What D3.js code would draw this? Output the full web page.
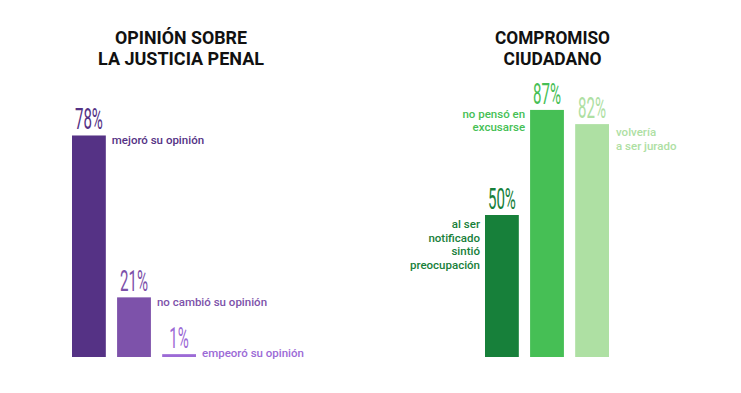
<!DOCTYPE html>
<html>
<head>
<meta charset="utf-8">
<script src="https://cdn.jsdelivr.net/npm/d3@7"></script>
<style>
  body { margin: 0; background: #fff; }
  svg { display: block; }
  .title { font-family: Roboto, sans-serif; font-weight: 700; font-size: 19px; fill: #111; }
  .pct { font-family: Roboto, sans-serif; font-weight: 400; font-size: 29px; }
  .lbl { font-family: Roboto, sans-serif; font-weight: 500; font-size: 11.5px; }
</style>
</head>
<body>
<div id="chart"></div>
<script>
// Datos
const opinionTitle = ['OPINIÓN SOBRE', 'LA JUSTICIA PENAL'];
const opinionCats = ['mejoró su opinión', 'no cambió su opinión', 'empeoró su opinión'];
const opinionValues = [78, 21, 1];

const civicTitle = ['COMPROMISO', 'CIUDADANO'];
const civicCats = [
  ['al ser', 'notificado', 'sintió', 'preocupación'],
  ['no pensó en', 'excusarse'],
  ['volvería', 'a ser jurado']
];
const civicValues = [50, 87, 82];

// Colores
const purples = ['#553285', '#7d52aa', '#9c6ad6'];
const greens = ['#17803a', '#46bf55', '#aee0a3'];

const width = 741;
const height = 393;
const base = 357;

const svg = d3.select('#chart')
  .append('svg')
    .attr('width', width)
    .attr('height', height);

// escala vertical compartida
const y = d3.scaleLinear()
  .domain([0, 100])
  .range([base, base - 284]);

function title(lines, cx, lengths) {
  svg.selectAll(null)
    .data(lines)
    .enter().append('text')
      .attr('class', 'title')
      .attr('x', cx)
      .attr('y', (d, i) => 44 + i * 20.5)
      .attr('text-anchor', 'middle')
      .attr('textLength', (d, i) => lengths[i])
      .attr('lengthAdjust', 'spacingAndGlyphs')
      .text(d => d);
}

function pctLabels(g, x, values, colors) {
  g.selectAll('.pct')
    .data(values)
    .enter().append('text')
      .attr('class', 'pct')
      .attr('text-anchor', 'middle')
      .attr('fill', (d, i) => colors[i])
      .attr('transform', (d, i) =>
        `translate(${x(i) + x.bandwidth() / 2},${y(d) - 6}) scale(0.52,1)`)
      .text(d => d + '%');
}

function bars(g, x, values, colors) {
  g.selectAll('rect')
    .data(values)
    .enter().append('rect')
      .attr('x', (d, i) => x(i))
      .attr('y', d => y(d))
      .attr('width', x.bandwidth())
      .attr('height', d => base - y(d))
      .attr('fill', (d, i) => colors[i]);
}

/** Opinión sobre la justicia penal */
title(opinionTitle, 181, [132, 166]);

const x1 = d3.scaleBand()
  .domain(d3.range(opinionValues.length))
  .range([72, 196])
  .paddingInner(0.25);

const g1 = svg.append('g');
bars(g1, x1, opinionValues, purples);
pctLabels(g1, x1, opinionValues, purples);

g1.selectAll('.lbl')
  .data(opinionCats)
  .enter().append('text')
    .attr('class', 'lbl')
    .attr('x', (d, i) => x1(i) + x1.bandwidth() + 6)
    .attr('y', (d, i) => Math.min(y(opinionValues[i]) + 9, base))
    .attr('fill', (d, i) => purples[i])
    .text(d => d);

/** Compromiso ciudadano */
title(civicTitle, 552.5, [115, 98]);

const x2 = d3.scaleBand()
  .domain(d3.range(civicValues.length))
  .range([485, 609])
  .paddingInner(0.25);

const g2 = svg.append('g');
bars(g2, x2, civicValues, greens);
pctLabels(g2, x2, civicValues, greens);

// ubicacion de las etiquetas: lado y desplazamiento
const civicSide = ['left', 'left', 'right'];
const civicDy = [13, 8, 12];

civicCats.forEach((lines, i) => {
  const left = civicSide[i] === 'left';
  g2.append('text')
    .attr('class', 'lbl')
    .attr('fill', greens[i])
    .attr('text-anchor', left ? 'end' : 'start')
    .selectAll('tspan')
    .data(lines)
    .enter().append('tspan')
      .attr('x', left ? x2(i) - 5 : x2(i) + x2.bandwidth() + 7)
      .attr('y', (d, j) => y(civicValues[i]) + civicDy[i] + j * 13.5)
      .text(d => d);
});
</script>
</body>
</html>
